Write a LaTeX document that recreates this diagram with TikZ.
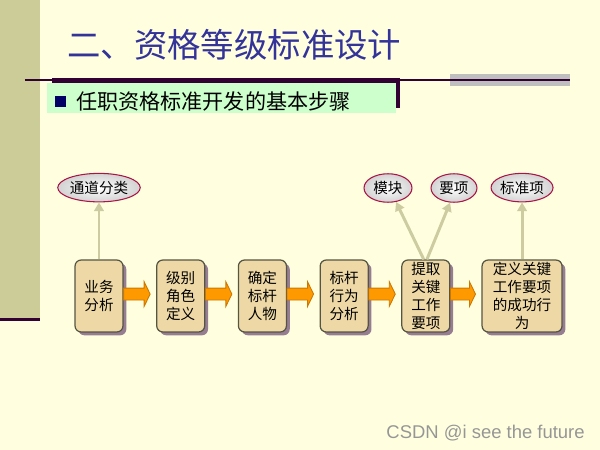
\documentclass[tikz,border=0pt]{standalone}
\usepackage{fontspec}
\setmainfont{Noto Sans CJK SC}
\newfontfamily\markfont{Liberation Sans}
\usetikzlibrary{shapes.geometric, arrows.meta, positioning, calc, shadows}
\definecolor{paper}{RGB}{255,255,224}
\definecolor{strip}{RGB}{204,204,153}
\definecolor{plum}{RGB}{51,0,51}
\definecolor{titleblue}{RGB}{51,51,153}
\definecolor{mint}{RGB}{204,255,204}
\definecolor{navy}{RGB}{0,0,102}
\definecolor{boxtan}{RGB}{238,217,166}
\definecolor{boxedge}{RGB}{85,85,68}
\definecolor{boxshade}{RGB}{150,125,145}
\definecolor{flowfill}{RGB}{255,153,0}
\definecolor{flowedge}{RGB}{204,119,0}
\definecolor{tagedge}{RGB}{170,20,70}
\definecolor{riser}{RGB}{204,204,160}
\definecolor{markgray}{RGB}{150,150,150}

\begin{document}
\begin{tikzpicture}[
    x=0.02cm, y=-0.02cm,
    node distance=0.65cm,
    stepbox/.style={draw=boxedge, line width=0.7pt, fill=boxtan, rounded corners=3.5pt,
        minimum width=0.96cm, minimum height=1.44cm, inner sep=1pt, align=center,
        font=\fontsize{8.3}{10.2}\selectfont,
        drop shadow={shadow xshift=1.9pt, shadow yshift=-1.9pt, fill=boxshade, opacity=1}},
    tag/.style={ellipse, draw=tagedge, line width=0.6pt, inner color=white, outer color=gray!35,
        inner xsep=0pt, inner ysep=1pt, minimum height=0.57cm, font=\fontsize{8.3}{9}\selectfont},
    flow/.style={draw=flowedge, line width=0.5pt, fill=flowfill},
    rise/.style={draw=riser, line width=1.7pt, -{Triangle[length=5pt, width=5.5pt]}}
]
    % slide background
    \fill[paper] (0,0) rectangle (600,450);
    \useasboundingbox (0,0) rectangle (600,450);
    \fill[strip] (0,0) rectangle (40,318);
    \fill[plum] (0,318) rectangle (40,321);

    % title and subtitle bar
    \node[anchor=west, text=titleblue, font=\fontsize{19}{22}\selectfont, inner sep=0] (title) at (67,45) {二、资格等级标准设计};
    \fill[gray!50] (450,74) rectangle (570,86);
    \draw[plum, line width=0.6pt] (25,80) -- (570,80);
    \fill[plum] (52,78) rectangle (400,108);
    \fill[mint] (47,83) rectangle (396,113);
    \fill[navy] (55,96) rectangle (66,107);
    \node[anchor=west, font=\fontsize{12}{14}\selectfont, inner sep=0] (sub) at (76,101) {任职资格标准开发的基本步骤};

    % steps
    \node[stepbox] (b1) at (99,296) {业务\\分析};
    \node[stepbox, right=of b1] (b2) {级别\\角色\\定义};
    \node[stepbox, right=of b2] (b3) {确定\\标杆\\人物};
    \node[stepbox, right=of b3] (b4) {标杆\\行为\\分析};
    \node[stepbox, right=of b4] (b5) {提取\\关键\\工作\\要项};
    \node[stepbox, minimum width=1.6cm, right=0.62cm of b5] (b6) {定义关键\\工作要项\\的成功行\\为};

    % outputs
    \node[tag, minimum width=1.52cm, above=1.14cm of b1] (t1) {通道分类};
    \node[tag, minimum width=0.96cm] (t2) at (388,188) {模块};
    \node[tag, minimum width=0.92cm] (t3) at (454,188) {要项};
    \node[tag, minimum width=1.24cm, above=1.14cm of b6] (t4) {标准项};

    \foreach \a/\b in {b1/b2, b2/b3, b3/b4, b4/b5, b5/b6}
        \draw[flow] let \p1=(\a.east), \p2=(\b.west) in
            (\x1,\y1+4.5pt) -- (\x2-6.8pt,\y1+4.5pt) -- (\x2-6.8pt,\y1+8.1pt) -- (\x2-3.4pt,\y1+1.1pt)
            -- (\x2-6.8pt,\y1-5.9pt) -- (\x2-6.8pt,\y1-2.3pt) -- (\x1,\y1-2.3pt) -- cycle;

    \draw[rise] (b1.north) -- (t1.south);
    \draw[rise] ([xshift=-1.2pt]b5.north) -- (t2.-60);
    \draw[rise] ([xshift=0.6pt]b5.north) -- (t3.255);
    \draw[rise] (b6.north) -- (t4.south);

    \node[anchor=east, font=\markfont\fontsize{10.5}{12}\selectfont, text=markgray, inner sep=0] (mark) at (585,433) {CSDN @i see the future};
\end{tikzpicture}
\end{document}
